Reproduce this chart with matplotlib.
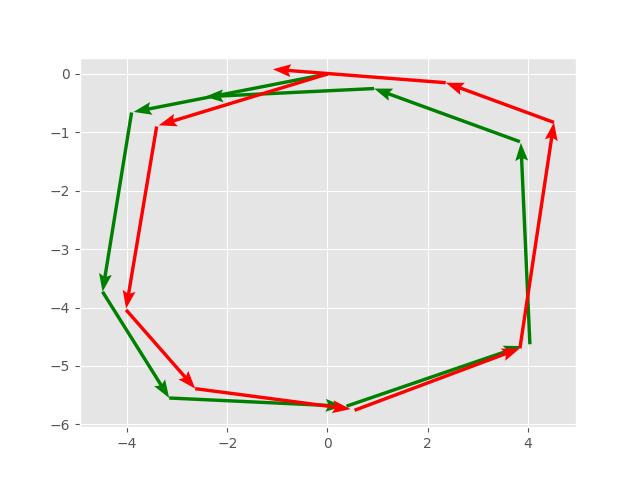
import numpy as np
import matplotlib
matplotlib.use('Agg')
import matplotlib.pyplot as plt

plt.style.use('ggplot')

# red path: arrow start and end points
red_x0 = [0.00, -3.41, -4.02, -2.64, 0.54, 3.84, 4.52, 2.36]
red_y0 = [0.00, -0.90, -4.04, -5.39, -5.76, -4.70, -0.83, -0.15]
red_x1 = [-3.37, -4.02, -2.64, 0.46, 3.84, 4.52, 2.36, -1.09]
red_y1 = [-0.88, -4.02, -5.39, -5.74, -4.70, -0.83, -0.15, 0.08]

# green path
green_x0 = [0.00, -3.91, -4.49, -3.16, 0.38, 4.04, 3.84, 0.93]
green_y0 = [0.00, -0.66, -3.73, -5.55, -5.69, -4.63, -1.16, -0.25]
green_x1 = [-3.87, -4.49, -3.16, 0.32, 3.88, 3.86, 0.93, -2.44]
green_y1 = [-0.65, -3.73, -5.55, -5.69, -4.66, -1.18, -0.25, -0.39]

fig, ax = plt.subplots(figsize=(6.4, 4.8), dpi=100)


def draw(x0, y0, x1, y1, col):
	x0 = np.array(x0)
	y0 = np.array(y0)
	ax.quiver(x0, y0, np.array(x1) - x0, np.array(y1) - y0,
			  angles='xy', scale_units='xy', scale=1, color=col,
			  units='dots', width=3.4, headwidth=3.8, headlength=5.3, headaxislength=4.6)


draw(green_x0, green_y0, green_x1, green_y1, 'green')
draw(red_x0, red_y0, red_x1, red_y1, 'red')

ax.set_xlim(-4.94, 4.96)
ax.set_ylim(-6.05, 0.28)
ax.set_xticks([-4, -2, 0, 2, 4])
ax.set_yticks([0, -1, -2, -3, -4, -5, -6])

fig.savefig('out.png')
